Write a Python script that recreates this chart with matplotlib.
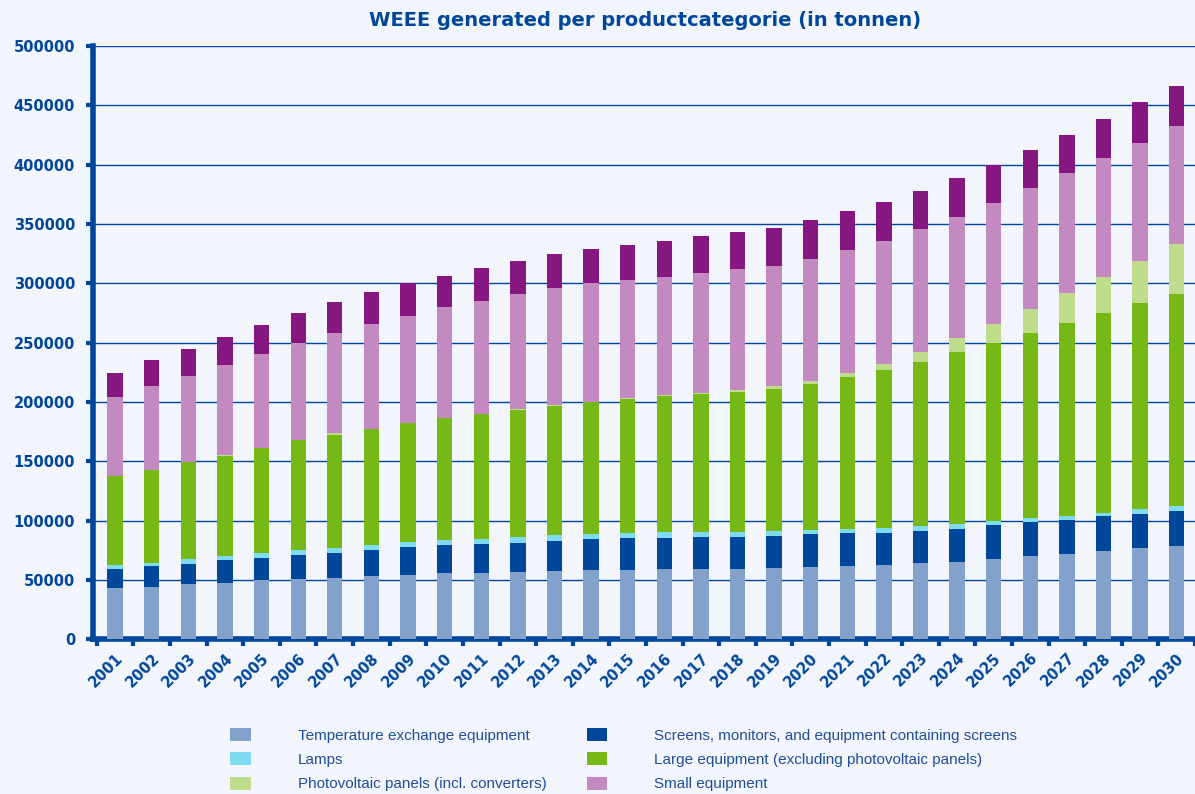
import numpy as np
import matplotlib
matplotlib.use("Agg")
import matplotlib.pyplot as plt

# jaren en tonnages per categorie
years = [str(y) for y in range(2001, 2031)]

temperature = [43000, 43800, 46300, 47200, 49700, 50600, 51400, 53100, 53900, 55600,
               55600, 56500, 57300, 58100, 58100, 59000, 59000, 59000, 59800, 60700,
               61500, 62600, 64100, 65000, 67500, 69900, 71800, 74200, 76700, 78500]
screens = [16000, 17700, 16900, 19400, 18600, 20200, 21100, 21900, 23600, 23600,
           24500, 24400, 25300, 26200, 27000, 26100, 27000, 27000, 27000, 27800,
           27800, 27000, 27000, 27900, 28800, 28900, 28500, 29500, 28800, 29500]
lamps = [3400, 2500, 4200, 3300, 4200, 4200, 4200, 4200, 4200, 4200,
         4200, 5100, 5000, 4200, 4200, 5100, 4200, 4200, 4200, 3400,
         3400, 4300, 4300, 4000, 3400, 3300, 3400, 2700, 4300, 4300]
large = [75000, 78400, 81800, 84300, 88500, 92700, 95200, 97800, 100300, 102800,
         105300, 107500, 109300, 111400, 112900, 114600, 116300, 117900, 119700, 123000,
         128100, 133100, 138300, 145400, 150000, 156200, 162900, 168700, 173600, 178800]
pv = [0, 0, 0, 900, 0, 0, 1700, 300, 300, 300,
      300, 300, 300, 400, 900, 800, 800, 1700, 2800, 2500,
      3400, 5200, 8600, 11700, 16300, 20200, 25400, 30400, 35600, 42300]
small = [66500, 70800, 72400, 75800, 79200, 81800, 84400, 88300, 90000, 93400,
         94900, 96900, 98600, 99700, 99400, 99500, 101100, 102000, 100800, 102800,
         103600, 103700, 103700, 102100, 101800, 102200, 101300, 100300, 99400, 99400]
other = [20300, 21900, 22900, 23700, 24500, 25300, 26100, 26900, 27800, 26100,
         27800, 27800, 28600, 28700, 29500, 30300, 31200, 31200, 32200, 33000,
         33000, 32800, 31900, 32900, 32200, 31900, 31900, 32900, 34700, 33800]

series = [
    ("Temperature exchange equipment", temperature, "#82a2cc"),
    ("Screens, monitors, and equipment containing screens", screens, "#00479b"),
    ("Lamps", lamps, "#7fdcf0"),
    ("Large equipment (excluding photovoltaic panels)", large, "#76b816"),
    ("Photovoltaic panels (incl. converters)", pv, "#bedc8c"),
    ("Small equipment", small, "#c38ac1"),
    ("_other", other, "#861781"),
]

blue = "#00479b"
bg = "#f2f5fb"

fig = plt.figure(figsize=(11.95, 7.94), dpi=100, facecolor=bg)
ax = fig.add_axes([0.078, 0.195, 0.922, 0.747], facecolor=bg)

x = np.arange(len(years))
bottom = np.zeros(len(years))
bars = {}
for label, vals, col in series:
    b = ax.bar(x, vals, 0.42, bottom=bottom, color=col, label=label, zorder=3)
    bars[label] = b
    bottom += np.array(vals)

ax.set_ylim(0, 500000)
ax.set_xlim(-0.6, len(years) - 0.54)
ax.set_yticks(np.arange(0, 500001, 50000))
ax.yaxis.grid(True, color=blue, lw=1.0, zorder=0)
ax.set_axisbelow(True)

ax.set_xticks(x)
ax.set_xticklabels(years, rotation=45, ha="right", rotation_mode="anchor",
                   fontsize=10.5, fontweight="heavy", color=blue)
ax.set_xticks(np.arange(-0.5, len(years), 1), minor=True)
ax.tick_params(axis="x", which="major", length=0, pad=8)
ax.tick_params(axis="x", which="minor", length=5, width=3, color=blue)
ax.tick_params(axis="y", length=5, width=3, color=blue, labelsize=10.5,
               labelcolor=blue, pad=8)
for t in ax.get_yticklabels():
    t.set_fontweight("heavy")

for s in ["top", "right"]:
    ax.spines[s].set_visible(False)
for s in ["left", "bottom"]:
    ax.spines[s].set_color(blue)
    ax.spines[s].set_linewidth(4)

fig.text(0.54, 0.974, "WEEE generated per productcategorie (in tonnen)",
         ha="center", va="center", fontsize=14, fontweight="heavy", color=blue)

order = ["Temperature exchange equipment", "Lamps", "Photovoltaic panels (incl. converters)",
         "Screens, monitors, and equipment containing screens",
         "Large equipment (excluding photovoltaic panels)", "Small equipment"]
leg = fig.legend([bars[k] for k in order], order, ncol=2, loc="upper left",
                 bbox_to_anchor=(0.181, 0.1005), frameon=False,
                 prop={"family": "Liberation Sans", "size": 11},
                 handlelength=1.35, handleheight=0.95, handletextpad=3.1,
                 columnspacing=2.6, labelspacing=0.62)
for t in leg.get_texts():
    t.set_color("#1f4e9a")

fig.savefig("out.png", dpi=100, facecolor=bg)
